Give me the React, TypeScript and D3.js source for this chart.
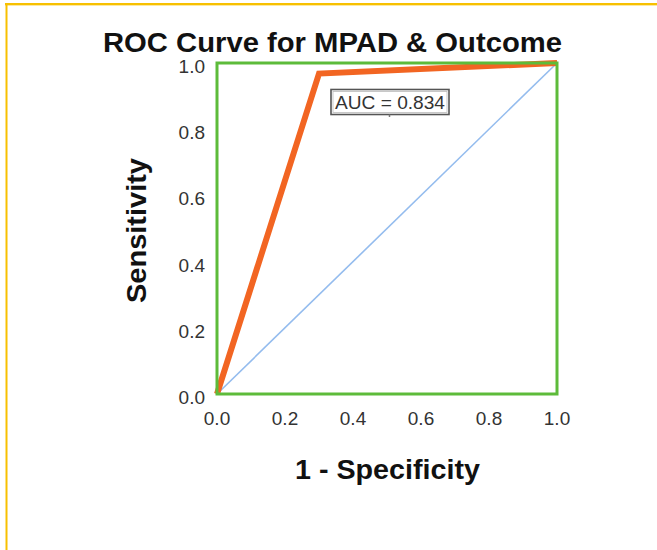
import React from "react";
import * as d3 from "d3";

const rocFpr = [0, 0.3, 1];
const rocTpr = [0, 0.968, 1];
const diagFpr = [0, 1];
const diagTpr = [0, 1];
const tickValues = [0, 0.2, 0.4, 0.6, 0.8, 1.0];
const titleText = "ROC Curve for MPAD & Outcome";
const xLabel = "1 - Specificity";
const yLabel = "Sensitivity";
const aucLabel = "AUC = 0.834";

export default function App() {
  const W = 657, H = 550;
  const x = d3.scaleLinear().domain([0, 1]).range([217, 557]);
  const y = d3.scaleLinear().domain([0, 1]).range([394, 63]);
  const fmt = d3.format(".1f");
  const mk = (xs: number[], ys: number[]) =>
    d3.line<number>().x((d) => x(d)).y((_, i) => y(ys[i]))(xs) || "";
  const font = "Arial, 'Liberation Sans', Helvetica, sans-serif";
  return (
    <div style={{ position: "fixed", left: 0, top: 0, width: W, height: H, background: "#fff" }}>
      <svg width={W} height={H} style={{ display: "block" }}>
        <rect x={0} y={0} width={W} height={H} fill="#fff" />
        {/* yellow frame */}
        <line x1={5} y1={4} x2={W} y2={4} stroke="#f7c000" strokeWidth={2} />
        <line x1={5} y1={5.5} x2={W} y2={5.5} stroke="#fde9a0" strokeWidth={1} />
        <line x1={6.5} y1={3} x2={6.5} y2={H} stroke="#f7c000" strokeWidth={2} />

        <text x={332.5} y={52} textAnchor="middle" fontFamily={font} fontWeight="bold" fontSize={27}
          textLength={459} lengthAdjust="spacingAndGlyphs" fill="#111">{titleText}</text>

        {/* diagonal */}
        <path d={mk(diagFpr, diagTpr)} fill="none" stroke="#94bcee" strokeWidth={1.6} />
        {/* ROC curve */}
        <path d={mk(rocFpr, rocTpr)} fill="none" stroke="#f26522" strokeWidth={6} strokeLinejoin="miter" strokeLinecap="butt" />
        {/* frame */}
        <rect x={x(0)} y={y(1)} width={x(1) - x(0)} height={y(0) - y(1)} fill="none" stroke="#5dbb3a" strokeWidth={3} />

        {/* ticks */}
        {tickValues.map((t) => (
          <text key={"x" + t} x={x(t)} y={425} textAnchor="middle" fontFamily={font} fontSize={19} fill="#333">{fmt(t)}</text>
        ))}
        {tickValues.map((t) => (
          <text key={"y" + t} x={205} y={y(t) + 10} textAnchor="end" fontFamily={font} fontSize={19} fill="#333">{fmt(t)}</text>
        ))}

        <text x={387.5} y={479} textAnchor="middle" fontFamily={font} fontWeight="bold" fontSize={27}
          textLength={185} lengthAdjust="spacingAndGlyphs" fill="#111">{xLabel}</text>
        <text transform={`translate(146,230.5) rotate(-90)`} textAnchor="middle" fontFamily={font} fontWeight="bold" fontSize={27}
          textLength={145} lengthAdjust="spacingAndGlyphs" fill="#111">{yLabel}</text>

        {/* AUC annotation */}
        <rect x={331} y={89.5} width={118} height={25} fill="#fff" stroke="#555" strokeWidth={1.6} />
        <rect x={333} y={91.5} width={114} height={21} fill="none" stroke="#bbb" strokeWidth={0.8} />
        <text x={390} y={109} textAnchor="middle" fontFamily={font} fontSize={19} fill="#333"
          textLength={110} lengthAdjust="spacingAndGlyphs">{aucLabel}</text>
        <line x1={389.5} y1={114.5} x2={389.5} y2={117} stroke="#777" strokeWidth={1.5} />
      </svg>
    </div>
  );
}
